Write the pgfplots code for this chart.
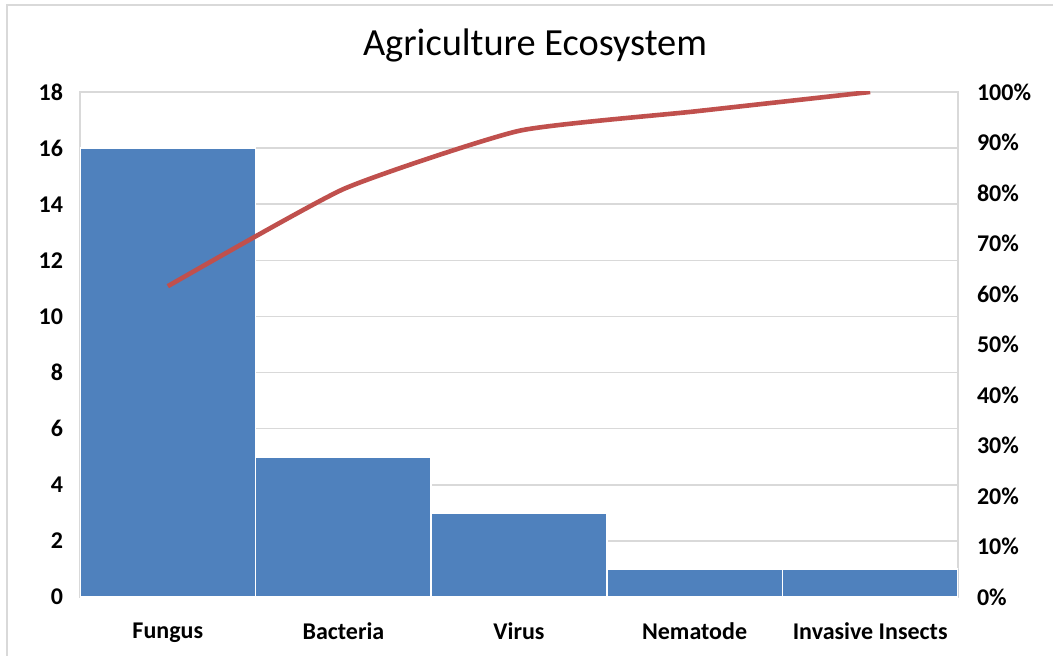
\documentclass[border=0pt]{standalone}
\usepackage{fontspec}
\setmainfont{Carlito}
\usepackage{pgfplots}
\pgfplotsset{compat=1.18}

\definecolor{barblue}{HTML}{4F81BD}
\definecolor{linered}{HTML}{C0504D}
\definecolor{gridgray}{HTML}{D9D9D9}

\begin{document}
\begin{tikzpicture}
  % page area and chart frame
  \useasboundingbox (0,0) rectangle (526.5pt,-328pt);
  \fill[white] (0,0) rectangle (526.5pt,-328pt);
  \draw[gridgray, line width=0.8pt] (3.5pt,-330pt) -- (3.5pt,-2.5pt) -- (530pt,-2.5pt);

  \pgfplotsset{
    paretoaxis/.style={
      scale only axis,
      width=439pt, height=252.5pt,
      at={(40pt,-298.5pt)}, anchor=south west,
      xmin=-0.5, xmax=4.5,
      tick style={draw=none},
      tick label style={font=\fontsize{12}{14}\selectfont\bfseries},
      /pgf/number format/assume math mode=true,
    },
  }

  % counts per category
  \begin{axis}[
    paretoaxis,
    ymin=0, ymax=18, ytick={0,2,...,18},
    axis line style={gridgray, line width=0.8pt},
    ymajorgrids, grid style={gridgray, line width=0.8pt},
    xtick={0,1,2,3,4},
    xticklabels={Fungus,Bacteria,Virus,Nematode,Invasive Insects},
    xticklabel style={yshift=-5pt},
    yticklabel style={xshift=-5pt},
    ybar, bar width=1,
  ]
    \addplot[fill=barblue, draw=white, line width=0.8pt]
      coordinates {(0,16) (1,5) (2,3) (3,1) (4,1)};
  \end{axis}

  % cumulative share
  \begin{axis}[
    paretoaxis,
    ymin=0, ymax=100, ytick={0,10,...,100},
    axis y line*=right, axis x line=none,
    axis line style={draw=none},
    yticklabel={\pgfmathprintnumber{\tick}\%},
    yticklabel style={xshift=6pt},
  ]
    \addplot[linered, line width=2.3pt, smooth, tension=0.3]
      coordinates {(0,61.54) (1,80.77) (2,92.31) (3,96.15) (4,100)};
  \end{axis}

  \node[font=\fontsize{19.2}{22}\selectfont] at (267.5pt,-22.5pt) {Agriculture Ecosystem};
\end{tikzpicture}
\end{document}
